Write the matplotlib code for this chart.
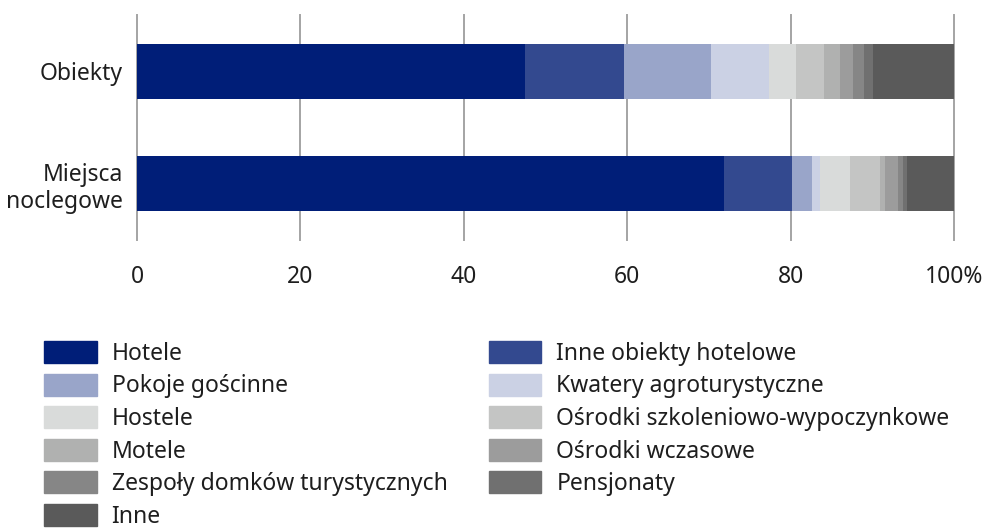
import matplotlib.pyplot as plt
from matplotlib.patches import Patch

plt.rcParams['font.family'] = ['Noto Sans', 'DejaVu Sans']

# dane
kategorie = ['Obiekty', 'Miejsca\nnoclegowe']
typy = ['Hotele', 'Inne obiekty hotelowe', 'Pokoje gościnne', 'Kwatery agroturystyczne',
        'Hostele', 'Ośrodki szkoleniowo-wypoczynkowe', 'Motele', 'Ośrodki wczasowe',
        'Zespoły domków turystycznych', 'Pensjonaty', 'Inne']
obiekty = [47.5, 12.1, 10.7, 7.0, 3.4, 3.4, 2.0, 1.5, 1.4, 1.1, 9.9]
miejsca = [71.8, 8.4, 2.45, 0.95, 3.7, 3.7, 0.6, 1.5, 0.6, 0.5, 5.8]
kolory = ['#001e78', '#33498f', '#99a5c9', '#cbd1e4', '#d9dbda', '#c4c5c4',
          '#b0b1b0', '#9c9c9c', '#868686', '#707070', '#5a5a5a']
ticki = [0, 20, 40, 60, 80, 100]
tick_labels = ['0', '20', '40', '60', '80', '100%']

fig = plt.figure(figsize=(9.83, 5.28), dpi=100)
ax = fig.add_axes([0.1394, 0.5455, 0.8311, 0.4261])

wartosci = [obiekty, miejsca]
for i, row in enumerate(wartosci):
    left = 0
    for j, v in enumerate(row):
        ax.barh(i, v, left=left, height=0.49, color=kolory[j], linewidth=0)
        left += v

ax.set_xlim(0, 100)
ax.set_ylim(1.5, -0.5)
ax.set_xticks(ticki)
ax.set_xticklabels(tick_labels)
ax.set_yticks([0, 1])
ax.set_yticklabels(kategorie)
ax.tick_params(axis='x', length=0, pad=18, labelsize=16.5, colors='#1e1e1e')
ax.tick_params(axis='y', length=0, pad=10, labelsize=16.5, colors='#1e1e1e')
ax.grid(axis='x', color='#a4a4a4', linewidth=1.4)
for gl in ax.get_xgridlines():
    gl.set_clip_on(False)
ax.set_axisbelow(True)
for s in ax.spines.values():
    s.set_visible(False)

# legenda - kolejnosc wierszami
kol1 = [0, 2, 4, 6, 8, 10]
kol2 = [1, 3, 5, 7, 9]
handles = [Patch(color=kolory[k]) for k in kol1 + kol2]
labels = [typy[k] for k in kol1 + kol2]
leg = fig.legend(handles, labels, ncol=2, loc='upper left',
                 bbox_to_anchor=(44 / 983, 1 - 341 / 528), frameon=False,
                 fontsize=16.5, handlelength=2.3, handleheight=1.1,
                 handletextpad=0.65, labelspacing=0.34, columnspacing=1.8,
                 borderpad=0, borderaxespad=0)
for t in leg.get_texts():
    t.set_color('#1e1e1e')

fig.savefig('out.png', dpi=100)
